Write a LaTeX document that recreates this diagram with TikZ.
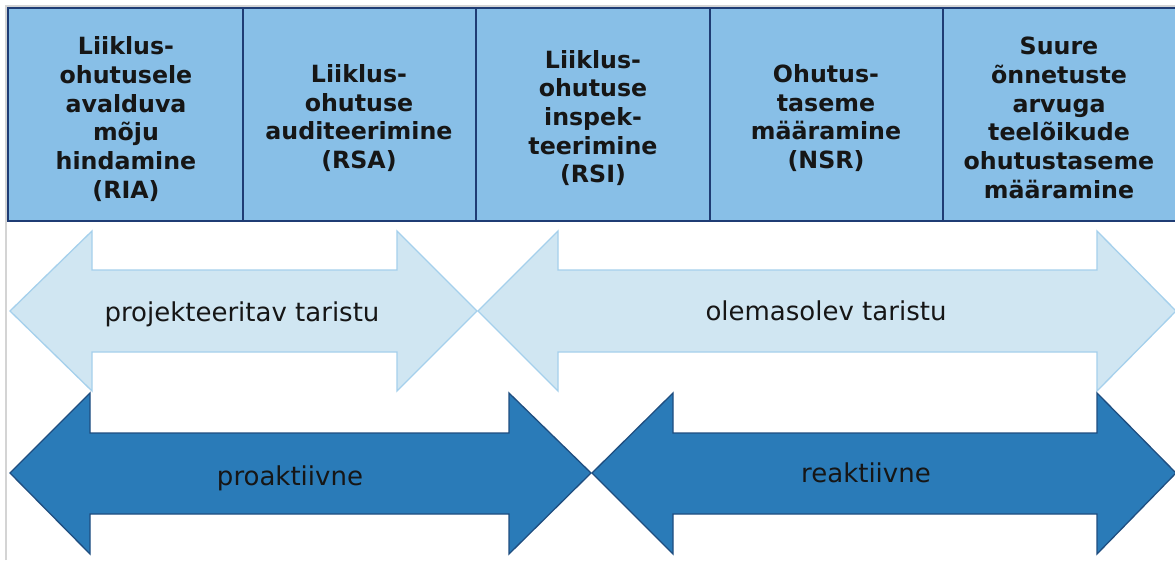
\documentclass[tikz,border=0pt]{standalone}
\usepackage{fontspec}
\setmainfont{DejaVu Sans}
\begin{document}
\begin{tikzpicture}[x=1pt,y=-1pt,
  topbox/.style={draw=boxline,line width=1.6pt,fill=boxfill},
  lightarrow/.style={draw=lightline,line width=1.3pt,fill=lightfill,line join=miter},
  darkarrow/.style={draw=darkline,line width=1.3pt,fill=darkfill,line join=miter},
  boxtext/.style={align=center,text=txt,font=\fontsize{23.7}{28.7}\selectfont\bfseries,inner sep=0pt},
  arrowtext/.style={text=txt,font=\fontsize{26}{30}\selectfont,inner sep=0pt,anchor=base}]
\definecolor{boxfill}{HTML}{88BFE7}
\definecolor{boxline}{HTML}{1F3C74}
\definecolor{lightfill}{HTML}{D0E6F2}
\definecolor{lightline}{HTML}{A5D0EC}
\definecolor{darkfill}{HTML}{2A7BB8}
\definecolor{darkline}{HTML}{1F4E80}
\definecolor{frame}{HTML}{D4D4D4}
\definecolor{txt}{HTML}{161616}
\useasboundingbox (0,0) rectangle (1175,560);
\fill[white] (0,0) rectangle (1175,560);
% outer grey frame lines
\draw[frame,line width=2pt] (6,560) -- (6,6) -- (1180,6);
% top boxes
\draw[topbox] (8,8) rectangle (243,221);
\draw[topbox] (243,8) rectangle (476,221);
\draw[topbox] (476,8) rectangle (710,221);
\draw[topbox] (710,8) rectangle (943,221);
\draw[topbox] (943,8) rectangle (1180,221);
\node[boxtext] (t1) at (126,119) {Liiklus-\\ohutusele\\avalduva\\mõju\\hindamine\\(RIA)};
\node[boxtext] (t2) at (359,118) {Liiklus-\\ohutuse\\auditeerimine\\(RSA)};
\node[boxtext] (t3) at (593,118) {Liiklus-\\ohutuse\\inspek-\\teerimine\\(RSI)};
\node[boxtext] (t4) at (826,118) {Ohutus-\\taseme\\määramine\\(NSR)};
\node[boxtext] (t5) at (1059,118) {Suure\\õnnetuste\\arvuga\\teelõikude\\ohutustaseme\\määramine};
% light double arrows
\draw[lightarrow] (10,311) -- (92,231) -- (92,270) -- (397,270) -- (397,231) -- (477,311)
  -- (397,391) -- (397,352) -- (92,352) -- (92,391) -- cycle;
\draw[lightarrow] (478,311) -- (558,231) -- (558,270) -- (1097,270) -- (1097,231) -- (1176,311)
  -- (1097,391) -- (1097,352) -- (558,352) -- (558,391) -- cycle;
% dark double arrows
\draw[darkarrow] (10,473) -- (90,393) -- (90,433) -- (509,433) -- (509,393) -- (591,473)
  -- (509,554) -- (509,514) -- (90,514) -- (90,554) -- cycle;
\draw[darkarrow] (592,473) -- (673,393) -- (673,433) -- (1097,433) -- (1097,393) -- (1176,473)
  -- (1097,554) -- (1097,514) -- (673,514) -- (673,554) -- cycle;
% arrow labels
\node[arrowtext] (l1) at (242,321) {projekteeritav taristu};
\node[arrowtext] (l2) at (826,320) {olemasolev taristu};
\node[arrowtext] (l3) at (290,485) {proaktiivne};
\node[arrowtext] (l4) at (866,482) {reaktiivne};
\end{tikzpicture}
\end{document}
